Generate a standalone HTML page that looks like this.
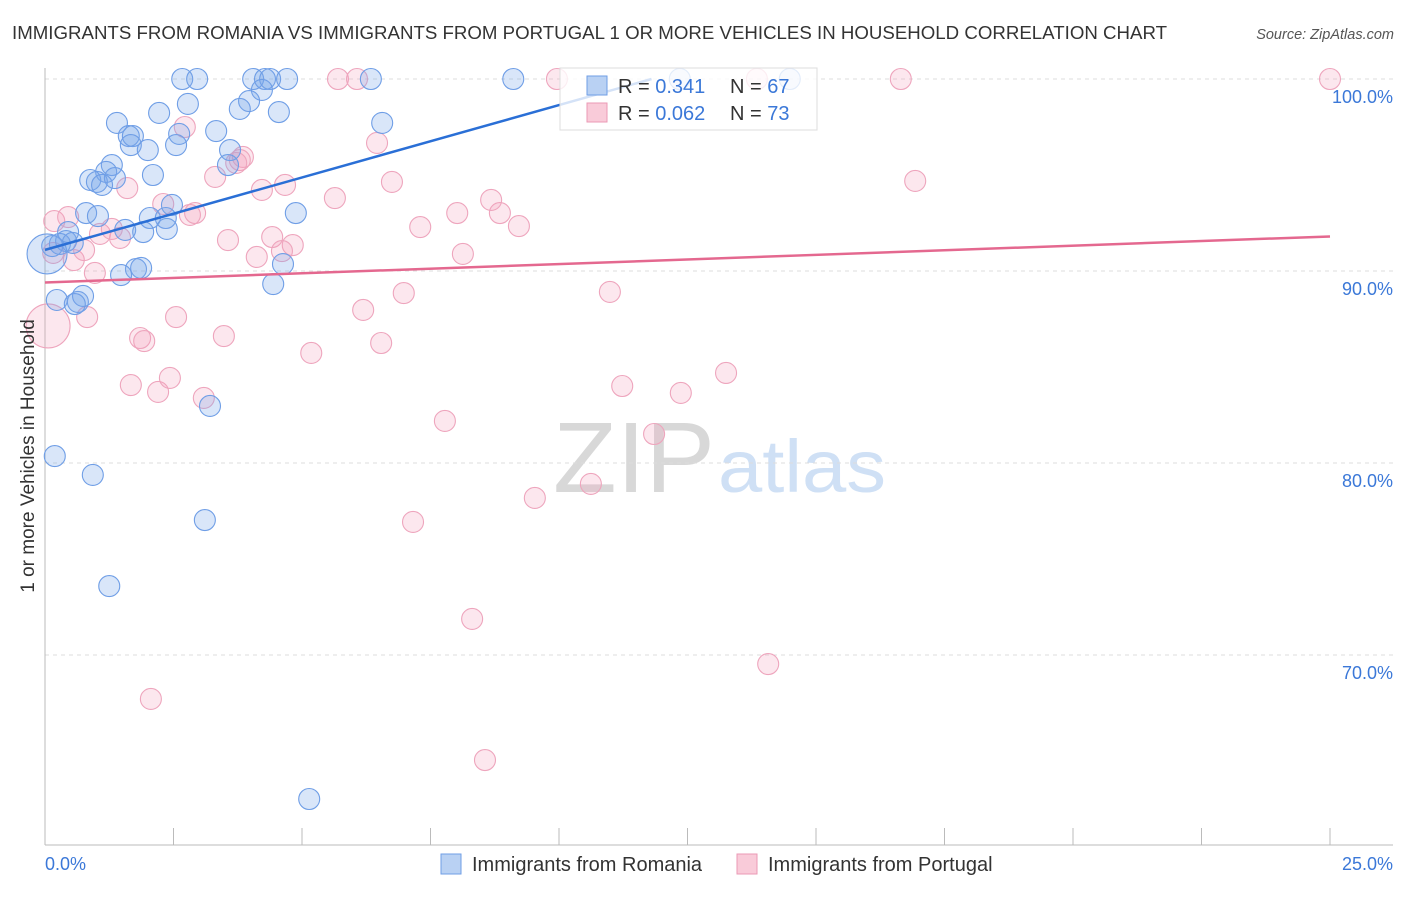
<!DOCTYPE html>
<html><head><meta charset="utf-8"><style>
body{margin:0;background:#fff;font-family:"Liberation Sans",sans-serif;}
svg text{font-family:"Liberation Sans",sans-serif;}
</style></head><body>
<svg id="chart" width="1406" height="892" xmlns="http://www.w3.org/2000/svg">
<text x="12" y="39" font-size="18" fill="#333" textLength="1155" lengthAdjust="spacingAndGlyphs">IMMIGRANTS FROM ROMANIA VS IMMIGRANTS FROM PORTUGAL 1 OR MORE VEHICLES IN HOUSEHOLD CORRELATION CHART</text>
<text x="1394" y="39" font-size="14.5" fill="#555" text-anchor="end" font-style="italic">Source: ZipAtlas.com</text>
<g>
<text x="553" y="492" font-family="Liberation Serif" font-size="100" fill="#d8d8d8" textLength="162" lengthAdjust="spacingAndGlyphs">ZIP</text>
<text x="718" y="492" font-size="74" fill="#cfe0f5" textLength="168" lengthAdjust="spacingAndGlyphs">atlas</text>
</g>
<g id="grid"></g>
<g id="axes"></g>
<g id="pts"></g>
<g id="lines"></g>
<text transform="translate(34,456) rotate(-90)" font-size="19" fill="#333" text-anchor="middle">1 or more Vehicles in Household</text>
<g>
<rect x="560" y="68" width="257" height="62" fill="rgba(255,255,255,0.8)" stroke="#ddd"/>
<rect x="587" y="76" width="20" height="19" fill="#b9d1f3" stroke="#6f9ee6"/>
<rect x="587" y="103" width="20" height="19" fill="#f9cbd9" stroke="#eb9ab5"/>
<text x="618" y="93" font-size="20" fill="#333">R = <tspan fill="#3b78d8">0.341</tspan></text>
<text x="730" y="93" font-size="20" fill="#333">N = <tspan fill="#3b78d8">67</tspan></text>
<text x="618" y="120" font-size="20" fill="#333">R = <tspan fill="#3b78d8">0.062</tspan></text>
<text x="730" y="120" font-size="20" fill="#333">N = <tspan fill="#3b78d8">73</tspan></text>
</g>
<g>
<rect x="441" y="854" width="20" height="20" fill="#b9d1f3" stroke="#6f9ee6"/>
<text x="472" y="871" font-size="20" fill="#333">Immigrants from Romania</text>
<rect x="737" y="854" width="20" height="20" fill="#f9cbd9" stroke="#eb9ab5"/>
<text x="768" y="871" font-size="20" fill="#333">Immigrants from Portugal</text>
</g>
</svg>
<script>
const xTickLabels=["0.0%","25.0%"];
const yTicks=[100,90,80,70];
const yTickLabels=["100.0%","90.0%","80.0%","70.0%"];
const blueX=[2.67,2.96,4.05,4.28,4.38,4.71,6.34,9.11,2.78,2.22,4.55,4.22,3.97,3.79,1.40,6.56,1.63,1.71,1.67,2.00,3.33,2.61,2.55,3.60,1.30,1.19,0.88,1.01,1.36,1.11,2.10,3.56,2.47,4.88,0.80,1.03,2.04,2.35,1.91,2.37,1.56,0.45,0.41,0.29,0.54,0.14,0.04,1.77,1.87,1.48,4.63,4.44,0.23,0.64,0.74,0.58,3.21,0.19,0.93,3.11,1.25,5.14,12.35,14.49];
const blueY=[100,100,100,100,100,100,100,100,98.7,98.23,98.28,99.43,98.85,98.44,97.71,97.71,97.03,97.03,96.56,96.3,97.29,97.14,96.56,96.3,95.52,95.16,94.74,94.64,94.84,94.48,95.0,95.52,93.44,93.02,93.02,92.86,92.76,92.76,92.03,92.19,92.14,92.03,91.56,91.41,91.46,91.3,90.89,90.1,90.16,89.79,90.36,89.32,88.49,88.39,88.7,88.28,82.97,80.36,79.38,77.03,73.59,62.5,100,100];
const blueBig=[46];
const pinkX=[5.70,6.07,9.96,16.65,25.0,13.85,2.72,6.46,3.85,3.79,3.72,3.31,1.60,4.22,4.67,6.75,5.64,2.30,2.82,2.92,8.02,8.85,8.68,9.22,7.30,16.93,0.18,0.45,1.07,1.30,1.46,3.56,4.42,4.82,4.61,4.12,8.13,0.16,0.56,0.76,0.97,0.06,0.82,2.55,1.85,1.93,3.48,5.18,6.19,6.54,6.98,10.99,1.67,2.20,2.43,3.09,11.23,12.37,13.25,7.78,11.85,9.53,10.62,7.16,8.31,14.07,2.06,8.56];
const pinkY=[100,100,100,100,100,100,97.5,96.67,95.94,95.78,95.63,94.9,94.32,94.22,94.48,94.64,93.8,93.49,92.92,93.02,93.02,93.02,93.7,92.34,92.29,94.69,92.6,92.81,91.93,92.19,91.72,91.61,91.77,91.35,91.04,90.73,90.89,90.94,90.57,91.09,89.9,87.14,87.6,87.6,86.51,86.35,86.61,85.73,87.97,86.25,88.85,88.91,84.06,83.7,84.43,83.39,84.01,83.65,84.69,82.19,81.51,78.18,78.91,76.93,71.88,69.53,67.71,64.53];
const pinkBig=[41];
const blueTrendX=[0,11.8], blueTrendY=[91.1,100];
const pinkTrendX=[0,25], pinkTrendY=[89.4,91.8];
const NS="http://www.w3.org/2000/svg";
const X=v=>45+v/25*1285, Y=v=>79+(100-v)*19.2;
function mk(tag,attrs,parent){const e=document.createElementNS(NS,tag);for(const k in attrs)e.setAttribute(k,attrs[k]);document.getElementById(parent).appendChild(e);return e;}
yTicks.forEach((t,i)=>{
 const l=mk('line',{x1:45,x2:1393,y1:Y(t),y2:Y(t),stroke:'#ddd','stroke-dasharray':'4,4'},'grid');
 
 
 const tx=mk('text',{x:1393,y:Y(t)+24,'font-size':18,fill:'#3b78d8','text-anchor':'end'},'grid');tx.textContent=yTickLabels[i];
 
 
});
let a=mk('line',{x1:45,x2:45,y1:68,y2:845,stroke:'#bbb'},'axes');


a=mk('line',{x1:45,x2:1393,y1:845,y2:845,stroke:'#bbb'},'axes');


for(let i=0;i<=10;i++){const t=mk('line',{x1:X(i*2.5),x2:X(i*2.5),y1:828,y2:845,stroke:'#bbb'},'axes');
 
 }
let xl=mk('text',{x:45,y:870,'font-size':18,fill:'#3b78d8'},'axes');xl.textContent=xTickLabels[0];


xl=mk('text',{x:1393,y:870,'font-size':18,fill:'#3b78d8','text-anchor':'end'},'axes');xl.textContent=xTickLabels[1];


pinkX.forEach((v,i)=>{const c=mk('circle',{cx:X(v),cy:Y(pinkY[i]),r:pinkBig.includes(i)?22:10.5,fill:'rgba(244,160,188,0.25)',stroke:'#eea5bd','stroke-width':1.1},'pts');
 
 });
blueX.forEach((v,i)=>{const c=mk('circle',{cx:X(v),cy:Y(blueY[i]),r:blueBig.includes(i)?20:10.5,fill:'rgba(120,165,235,0.28)',stroke:'#6f9ee6','stroke-width':1.1},'pts');
 
 });
let tl=mk('line',{x1:X(blueTrendX[0]),y1:Y(blueTrendY[0]),x2:X(blueTrendX[1]),y2:Y(blueTrendY[1]),stroke:'#2a6fd6','stroke-width':2.5},'lines');


tl=mk('line',{x1:X(pinkTrendX[0]),y1:Y(pinkTrendY[0]),x2:X(pinkTrendX[1]),y2:Y(pinkTrendY[1]),stroke:'#e4688f','stroke-width':2.5},'lines');


</script>
</body></html>
